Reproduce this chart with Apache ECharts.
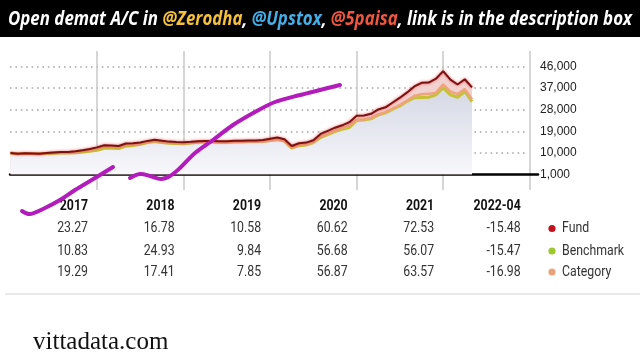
<!DOCTYPE html>
<html><head><meta charset="utf-8">
<script src="https://cdn.jsdelivr.net/npm/echarts@6/dist/echarts.min.js"></script>
<style>html,body{margin:0;padding:0;background:#fff}#c{width:640px;height:360px}</style>
</head><body><div id="c"></div>
<script>
// Growth of 10,000 – monthly, Jan 2017 .. Apr 2022
const fundGrowth = [10000,9600,9850,9750,9650,9950,10200,10400,10400,10650,11100,11600,
  12300,13200,13100,12900,13900,14000,14300,15000,15500,15100,14700,14500,
  14400,14600,14900,15000,15000,14900,14900,15100,15100,15200,15200,15400,
  15900,16400,15700,12900,14000,14300,15300,17900,19200,20500,21500,22800,
  25500,25600,26300,28100,29000,31000,33000,35200,37700,39200,39300,40900,
  44100,40500,38500,40700,37300];
const benchmarkGrowth = [10000,9500,9700,9600,9500,9700,9900,10000,9950,10100,10400,10700,
  11100,11900,11900,11800,12800,13100,13600,14300,14700,14300,14000,13900,
  13850,14100,14400,14500,14500,14400,14400,14600,14600,14700,14800,14900,
  15200,15600,14900,12000,13000,13300,14300,16400,17600,18900,19800,20600,
  23500,23700,24200,25800,26700,28200,29600,31500,33000,33100,33200,34200,
  37200,34200,33200,35600,31400];
const categoryGrowth = [10000,9600,9800,9700,9600,9900,10100,10300,10300,10500,10900,11300,
  11900,12800,12700,12500,13400,13500,13900,14600,15000,14700,14300,14100,
  14000,14200,14500,14500,14500,14300,14300,14500,14500,14600,14600,14700,
  15100,15500,14900,12200,13300,13600,14500,16800,18000,19300,20400,21500,
  23700,23900,24600,26000,27000,28500,30000,31800,33800,34400,34600,35100,
  38600,35600,34500,36600,32400];
const yTicks = [1000,10000,19000,28000,37000,46000];
const periodLabels = ['2017','2018','2019','2020','2021','2022-04'];
const fundReturns = [23.27,16.78,10.58,60.62,72.53,-15.48];
const benchmarkReturns = [10.83,24.93,9.84,56.68,56.07,-15.47];
const categoryReturns = [19.29,17.41,7.85,56.87,63.57,-16.98];
const legendNames = ['Fund','Benchmark','Category'];
const monthsSpan = 72; // six calendar columns of 12 months

const chart = echarts.init(document.getElementById('c'), null, {renderer:'canvas'});
const pair = a => a.map((v,i)=>[i,v]);
const yMin = yTicks[0], yMax = yTicks[yTicks.length-1], yInt = yTicks[1]-yTicks[0];
const hidden = {show:false};

const option = {
  backgroundColor:'#fff',
  animation:false,
  grid:[
    {left:10.5, width:519.2, top:51, height:139},      // vertical separators
    {left:10, width:515, top:66.5, height:108},        // dotted grid
    {left:10.5, width:519.2, top:66.5, height:108},    // data
    {left:10, width:528, top:66.5, height:108}         // baseline + labels
  ],
  xAxis:[
    {gridIndex:0,type:'value',min:0,max:monthsSpan,interval:12,axisLine:hidden,axisTick:hidden,axisLabel:hidden,
      splitLine:{show:true,showMinLine:false,lineStyle:{color:'#c8c8c8',width:1.5}}},
    {gridIndex:1,type:'value',min:0,max:monthsSpan,show:false},
    {gridIndex:2,type:'value',min:0,max:monthsSpan,show:false},
    {gridIndex:3,type:'value',min:0,max:1,axisLine:{show:true,lineStyle:{color:'#000',width:2.5}},axisTick:hidden,axisLabel:hidden,splitLine:hidden}
  ],
  yAxis:[
    {gridIndex:0,type:'value',min:0,max:1,show:false},
    {gridIndex:1,type:'value',min:yMin,max:yMax,interval:yInt,axisLine:hidden,axisTick:hidden,axisLabel:hidden,
      splitLine:{show:true,showMinLine:false,lineStyle:{color:'#a8a8a8',width:1.6,type:[1.6,3.8]}}},
    {gridIndex:2,type:'value',min:yMin,max:yMax,show:false},
    {gridIndex:3,type:'value',position:'right',min:yMin,max:yMax,interval:yInt,axisLine:hidden,axisTick:hidden,splitLine:hidden,
      axisLabel:{margin:2,color:'#222',fontSize:12,fontFamily:'Liberation Sans, Arial',
        formatter:v=>v.toLocaleString('en-US')}}
  ],
  series:[
    {type:'line',xAxisIndex:2,yAxisIndex:2,data:pair(fundGrowth),showSymbol:false,symbol:'none',
      lineStyle:{width:0},areaStyle:{color:'#f2d2d0',opacity:1},silent:true},
    {type:'line',xAxisIndex:2,yAxisIndex:2,data:pair(categoryGrowth),showSymbol:false,symbol:'none',
      lineStyle:{width:0},areaStyle:{opacity:1,color:{type:'linear',x:0,y:0,x2:0,y2:1,
        colorStops:[{offset:0,color:'#d3d6e4'},{offset:1,color:'#f8f8fb'}]}},silent:true},
    {name:'Benchmark',type:'line',xAxisIndex:2,yAxisIndex:2,data:pair(benchmarkGrowth),showSymbol:false,symbol:'none',
      lineStyle:{color:'#c6c236',width:3}},
    {name:'Category',type:'line',xAxisIndex:2,yAxisIndex:2,data:pair(categoryGrowth),showSymbol:false,symbol:'none',
      lineStyle:{color:'#eea47c',width:2.5}},
    {name:'Fund',type:'line',xAxisIndex:2,yAxisIndex:2,data:pair(fundGrowth),showSymbol:false,symbol:'none',
      lineStyle:{color:'#7a1212',width:2,shadowColor:'rgba(220,40,40,0.7)',shadowBlur:3}}
  ]
};
chart.setOption(option);

// ---------- overlay texts (banner, table, legend, footer) ----------
const bannerParts = [
  ['w','Open demat A/C in '],['z','@Zerodha'],['w',', '],['u','@Upstox'],['w',', '],['p','@5paisa'],['w',', link is in the description box']
];
const bannerFont = 'italic bold 20px "Open Sans"';
const cv = document.createElement('canvas').getContext('2d');
cv.font = bannerFont;
const bannerW = cv.measureText(bannerParts.map(p=>p[1]).join('')).width;
const bannerScale = 624 / bannerW;
const richBase = {fontFamily:'Open Sans',fontSize:20,fontWeight:'bold',fontStyle:'italic'};

const g = [];
g.push({type:'rect',shape:{x:0,y:0,width:640,height:37},style:{fill:'#000'},z:10});
g.push({type:'text',x:8,y:19.5,scaleX:bannerScale,z:11,style:{
  text:bannerParts.map(p=>'{'+p[0]+'|'+p[1]+'}').join(''),verticalAlign:'middle',align:'left',
  rich:{w:Object.assign({fill:'#fff'},richBase),z:Object.assign({fill:'#f4c03e'},richBase),
        u:Object.assign({fill:'#46aee6'},richBase),p:Object.assign({fill:'#f0573f'},richBase)}}});

const condensed = 0.82;
const rowsY = [206.7,228.5,251,272];
const rows = [fundReturns,benchmarkReturns,categoryReturns];
periodLabels.forEach((lab,k)=>{
  const xr = chart.convertToPixel({xAxisIndex:2},12*(k+1)) - 9;
  g.push({type:'text',x:xr,y:rowsY[0],scaleX:condensed,style:{text:lab,align:'right',verticalAlign:'middle',
    font:'bold 15px Roboto',fill:'#111'}});
  rows.forEach((r,j)=>{
    g.push({type:'text',x:xr,y:rowsY[j+1],scaleX:condensed,style:{text:r[k].toFixed(2),align:'right',verticalAlign:'middle',
      font:'15px Roboto',fill:'#333'}});
  });
});
const legendColors = ['#c0121c','#9cc82c','#eba27a'];
legendNames.forEach((n,j)=>{
  g.push({type:'circle',shape:{cx:552,cy:rowsY[j+1],r:3.6},style:{fill:legendColors[j]}});
  g.push({type:'text',x:562,y:rowsY[j+1],scaleX:condensed,style:{text:n,align:'left',verticalAlign:'middle',
    font:'15px Roboto',fill:'#333'}});
});
g.push({type:'line',shape:{x1:5,y1:294,x2:640,y2:294},style:{stroke:'#e2e2e2',lineWidth:1.5}});
g.push({type:'text',x:33,y:342,style:{text:'vittadata.com',align:'left',verticalAlign:'middle',
  font:'25px "Liberation Serif"',fill:'#111'}});

// hand-drawn magenta annotation strokes over the picture
const annotationStrokes = [
  [[22,211],[30,214],[45,208],[60,200],[75,190],[95,178],[113,167]],
  [[130,178],[140,174],[150,176],[161,179],[170,176],[180,168],[195,153],[213,140],[233,125],[255,112],[275,102],[300,95],[320,90],[340,85]]
];
annotationStrokes.forEach(s=>{
  g.push({type:'polyline',z:20,shape:{points:s,smooth:0.35},style:{stroke:'#b21cba',lineWidth:4,lineCap:'round',lineJoin:'round',fill:null}});
});
chart.setOption({graphic:{elements:g}});
</script></body></html>
